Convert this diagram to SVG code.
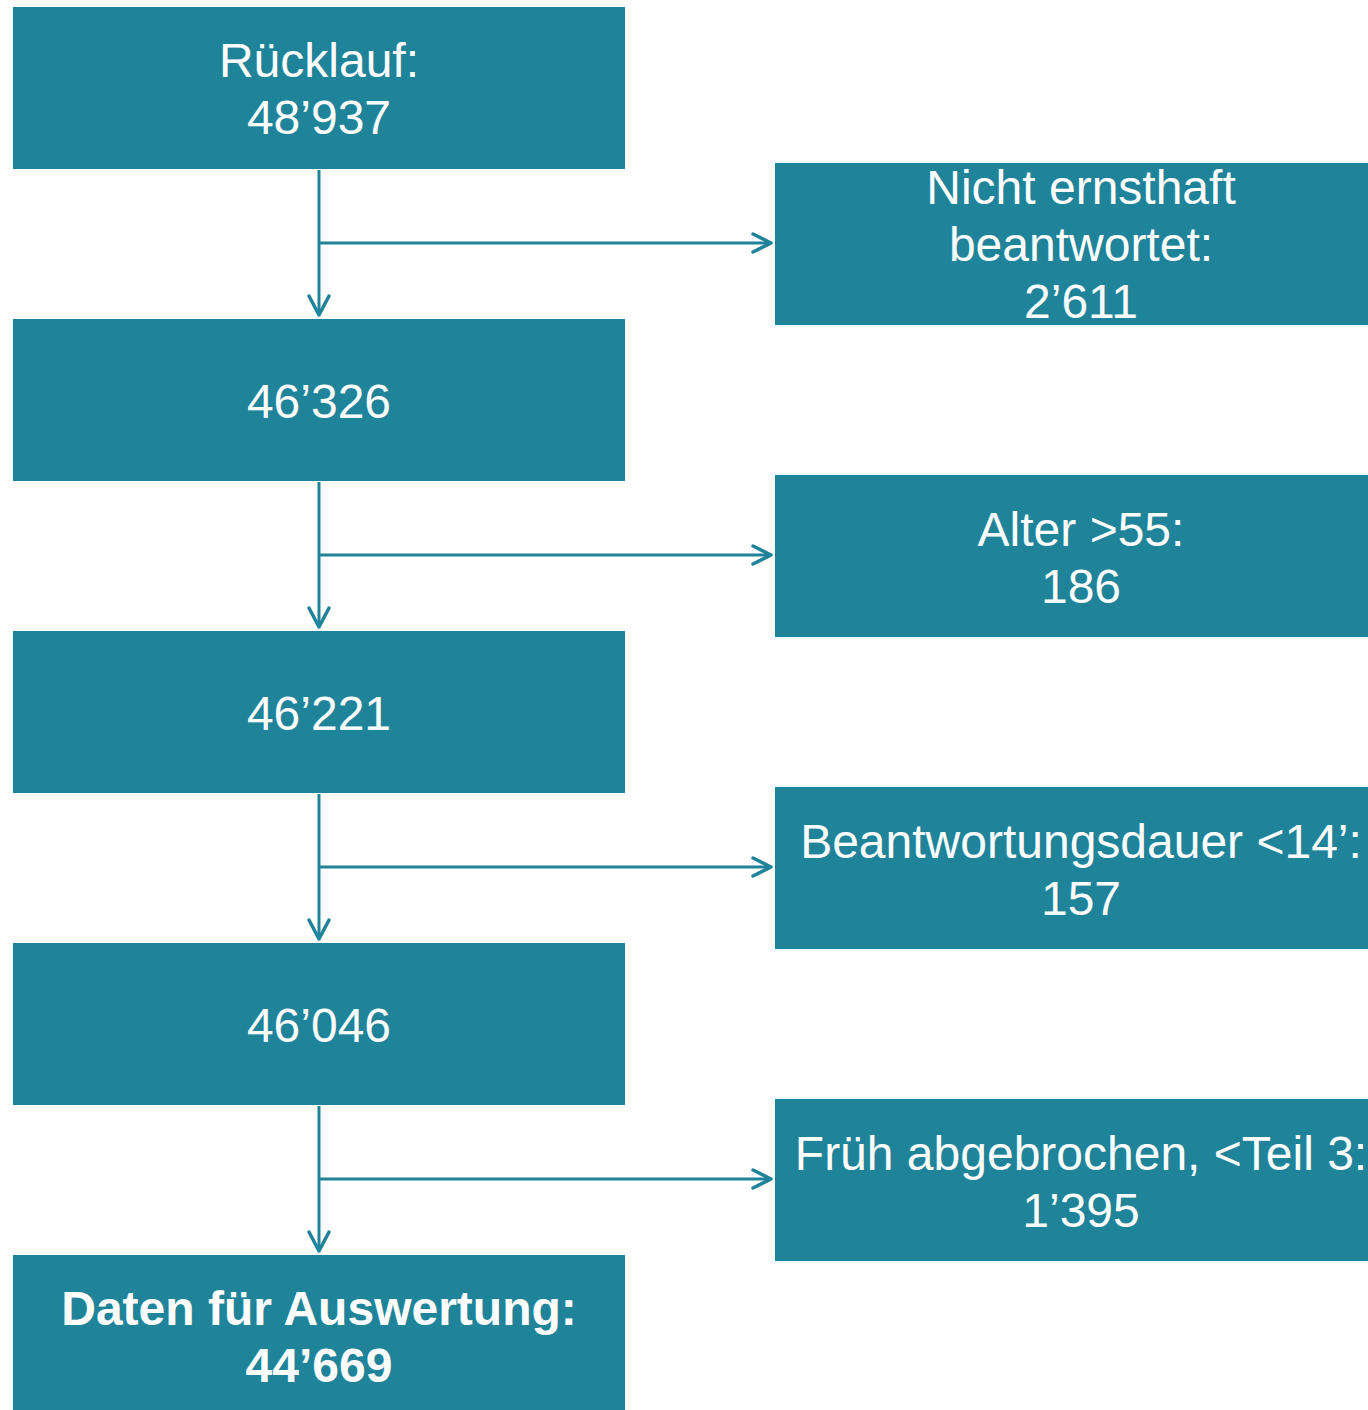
<svg xmlns="http://www.w3.org/2000/svg" width="1368" height="1410" viewBox="0 0 1368 1410">
<style>
.box{fill:#1F8399}
.t{font-family:"Liberation Sans",Arial,sans-serif;font-size:48px;fill:#ffffff;text-anchor:middle}
.b{font-weight:bold}
.c{stroke:#1F8399;stroke-width:3;fill:none}
.h{stroke:#1F8399;stroke-width:3.5;fill:none;stroke-linecap:round;stroke-linejoin:round}
</style>
<rect width="1368" height="1410" fill="#ffffff"/>
<g id="connectors">
<line class="c" x1="319" y1="170" x2="319" y2="315"/>
<line class="c" x1="319" y1="243" x2="771" y2="243"/>
<polyline class="h" points="309,296 319,315 329,296"/>
<polyline class="h" points="753,234 771,243 753,252"/>
<line class="c" x1="319" y1="482" x2="319" y2="627"/>
<line class="c" x1="319" y1="555" x2="771" y2="555"/>
<polyline class="h" points="309,608 319,627 329,608"/>
<polyline class="h" points="753,546 771,555 753,564"/>
<line class="c" x1="319" y1="794" x2="319" y2="939"/>
<line class="c" x1="319" y1="867" x2="771" y2="867"/>
<polyline class="h" points="309,920 319,939 329,920"/>
<polyline class="h" points="753,858 771,867 753,876"/>
<line class="c" x1="319" y1="1106" x2="319" y2="1251"/>
<line class="c" x1="319" y1="1179" x2="771" y2="1179"/>
<polyline class="h" points="309,1232 319,1251 329,1232"/>
<polyline class="h" points="753,1170 771,1179 753,1188"/>
</g>
<g id="n1"><rect class="box" x="13" y="7" width="612" height="162"/>
<text class="t" x="319" y="77">Rücklauf:</text><text class="t" x="319" y="134">48’937</text></g>
<g id="n2"><rect class="box" x="13" y="319" width="612" height="162"/>
<text class="t" x="319" y="418">46’326</text></g>
<g id="n3"><rect class="box" x="13" y="631" width="612" height="162"/>
<text class="t" x="319" y="730">46’221</text></g>
<g id="n4"><rect class="box" x="13" y="943" width="612" height="162"/>
<text class="t" x="319" y="1042">46’046</text></g>
<g id="n5"><rect class="box" x="13" y="1255" width="612" height="155"/>
<text class="t b" x="319" y="1325">Daten für Auswertung:</text><text class="t b" x="319" y="1382">44’669</text></g>
<g id="r1"><rect class="box" x="775" y="163" width="593" height="162"/>
<text class="t" x="1081" y="204">Nicht ernsthaft</text><text class="t" x="1081" y="261">beantwortet:</text><text class="t" x="1081" y="318">2’611</text></g>
<g id="r2"><rect class="box" x="775" y="475" width="593" height="162"/>
<text class="t" x="1081" y="546">Alter &gt;55:</text><text class="t" x="1081" y="603">186</text></g>
<g id="r3"><rect class="box" x="775" y="787" width="593" height="162"/>
<text class="t" x="1081" y="858">Beantwortungsdauer &lt;14’:</text><text class="t" x="1081" y="915">157</text></g>
<g id="r4"><rect class="box" x="775" y="1099" width="593" height="162"/>
<text class="t" x="1081" y="1170">Früh abgebrochen, &lt;Teil 3:</text><text class="t" x="1081" y="1227">1’395</text></g>
</svg>
